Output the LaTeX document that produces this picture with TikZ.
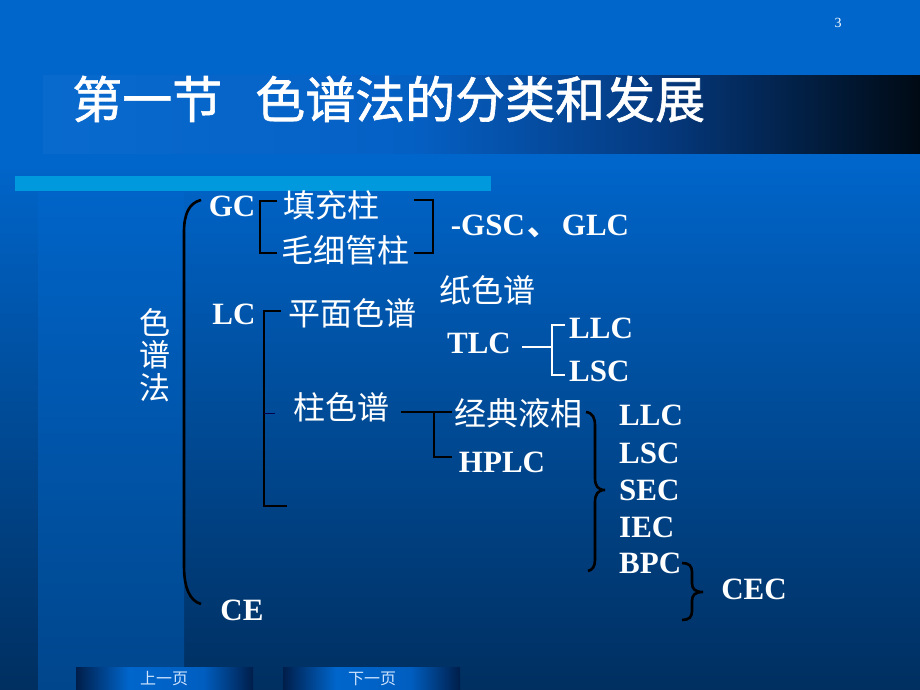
\documentclass[tikz,border=0pt]{standalone}
\usepackage{fontspec}
\setmainfont{Liberation Serif}
\newfontfamily\cjk{Noto Sans CJK SC}
\newfontfamily\cjktitle{Noto Sans CJK SC}[FakeBold=1.2]
\definecolor{bgtop}{HTML}{0066CC}
\definecolor{bgmid}{HTML}{0064C8}
\definecolor{bgbot}{HTML}{002F60}
\definecolor{pantop}{HTML}{0064C8}
\definecolor{panbot}{HTML}{00468C}
\definecolor{barblue}{HTML}{0099DD}
\definecolor{tba}{HTML}{096ACE}
\definecolor{tbb}{HTML}{0560C4}
\definecolor{tbc}{HTML}{053A80}
\definecolor{tbd}{HTML}{000A14}
\definecolor{nba}{HTML}{001E4A}
\definecolor{nbb}{HTML}{0066CC}
\definecolor{nbc}{HTML}{005EC0}
\definecolor{btntext}{HTML}{D0E4FF}
\pgfdeclarehorizontalshading{titleband}{100bp}{color(0bp)=(tba); color(25bp)=(tba); color(46bp)=(tbb); color(60bp)=(tbc); color(75bp)=(tbd); color(100bp)=(tbd)}
\pgfdeclarehorizontalshading{navbtn}{100bp}{color(0bp)=(nba); color(25bp)=(nba); color(40bp)=(nbb); color(61bp)=(nbc); color(75bp)=(nba); color(100bp)=(nba)}
\tikzset{
  lat/.style={text=white, font=\fontsize{31}{36}\selectfont\bfseries, inner sep=0pt},
  zh/.style={text=white, font=\cjk\fontsize{32}{36}\selectfont, inner sep=0pt},
  brk/.style={line width=2.6pt, draw=black},
  thinw/.style={line width=1.3pt, draw=white},
  navtext/.style={text=btntext, font=\cjk\fontsize{16}{18}\selectfont, inner sep=0pt}
}
\begin{document}
\begin{tikzpicture}[x=1pt,y=-1pt]
\useasboundingbox (0,0) rectangle (920,690);
% background
\fill[bgtop] (0,0) rectangle (920,171);
\shade[top color=bgmid, bottom color=bgbot] (0,170) rectangle (920,690);
\shade[top color=pantop, bottom color=panbot] (38,192) rectangle (184,690);
% title band
\shade[shading=titleband] (43,76) rectangle (920,153);
\node[text=white, font=\cjktitle\fontsize{50}{56}\selectfont, inner sep=0pt, anchor=west] (title) at (72,99) {第一节\hspace{33pt}色谱法的分类和发展};
\node[text=white, font=\fontsize{14}{16}\selectfont, inner sep=0pt] (pg) at (838,23) {3};
% light bar
\fill[barblue] (15,176) rectangle (491,191);

% text nodes
\node[zh, align=center, font=\cjk\fontsize{31}{32.5}\selectfont] (spf) at (155,355) {色\\谱\\法};
\node[lat] (gc) at (232,206) {GC};
\node[zh] (tian) at (331,205) {填充柱};
\node[zh] (mao) at (345,250) {毛细管柱};
\node[lat] (gsc) at (540,226) {-GSC\hspace{3pt}{\cjk 、}\hspace{3pt}GLC};
\node[lat] (lc) at (234,314) {LC};
\node[zh] (pm) at (352,313) {平面色谱};
\node[zh] (zhi) at (487,290) {纸色谱};
\node[lat] (tlc) at (479,343) {TLC};
\node[lat, anchor=west] (llca) at (569,328) {LLC};
\node[lat, anchor=west] (lsca) at (569,371) {LSC};
\node[zh] (zhu) at (341,407) {柱色谱};
\node[zh] (jd) at (518,413) {经典液相};
\node[lat] (hplc) at (502,462) {HPLC};
\node[lat, anchor=west] (llcb) at (619,415) {LLC};
\node[lat, anchor=west] (lscb) at (619,453) {LSC};
\node[lat, anchor=west] (sec) at (619,490) {SEC};
\node[lat, anchor=west] (iec) at (619,527) {IEC};
\node[lat, anchor=west] (bpc) at (619,563) {BPC};
\node[lat] (cec) at (754,589) {CEC};
\node[lat] (ce) at (242,610) {CE};

% coordinates for connectors
\coordinate (gcl1) at (277,201);
\coordinate (gcl2) at (277,253);
\coordinate (gcr1) at (414,200);
\coordinate (gcr2) at (414,253);
\coordinate (bigtop) at (201,200);
\coordinate (bigbot) at (201,604);
\coordinate (lct) at (281,311);
\coordinate (lcb) at (287,506);
\coordinate (lcm) at (275,413);
\coordinate (zhuend) at (401,412);
\coordinate (jdend) at (452,412);
\coordinate (hpend) at (452,457);
\coordinate (tlcend) at (522,347);
\coordinate (tlcup) at (565,325);
\coordinate (tlcdn) at (565,375);
\coordinate (br1t) at (586,412);
\coordinate (br1b) at (588,571);
\coordinate (br2t) at (682,563);
\coordinate (br2b) at (682,620);

% big bracket
\draw[brk] (bigtop) .. controls (189,203) and (184,214) .. (184,232) -- (184,566) .. controls (184,588) and (190,601) .. (bigbot);
% GC brackets
\draw[brk] (gcl1) -- (260,201) -- (260,253) -- (gcl2);
\draw[brk] (gcr1) -- (433,200) -- (433,253) -- (gcr2);
% LC bracket
\draw[brk] (lct) -- (264,311) -- (264,506) -- (lcb);
\draw[line width=1pt, draw=black!70!blue] (264,413) -- (lcm);
% column chromatography branch
\draw[brk] (zhuend) -- (jdend);
\draw[brk] (434,412) -- (434,457) -- (hpend);
% TLC branch
\draw[thinw] (tlcend) -- (552,347);
\draw[thinw] (tlcup) -- (552,325) -- (552,375) -- (tlcdn);
% brace 1
\draw[brk] (br1t) .. controls (593,413) and (595,418) .. (595,426) -- (595,478) .. controls (595,486) and (598,490) .. (605,490) .. controls (598,490) and (595,494) .. (595,502) -- (595,560) .. controls (595,567) and (592,570) .. (br1b);
% brace 2
\draw[brk] (br2t) .. controls (689,563) and (692,566) .. (692,572) -- (692,583) .. controls (692,589) and (695,592) .. (703,592) .. controls (695,592) and (692,595) .. (692,601) -- (692,611) .. controls (692,617) and (689,620) .. (br2b);

% nav buttons
\shade[shading=navbtn] (76,667) rectangle (253,690);
\shade[shading=navbtn] (283,667) rectangle (460,690);
\node[navtext] (prev) at (164,679) {上一页};
\node[navtext] (next) at (372,679) {下一页};
\end{tikzpicture}
\end{document}
